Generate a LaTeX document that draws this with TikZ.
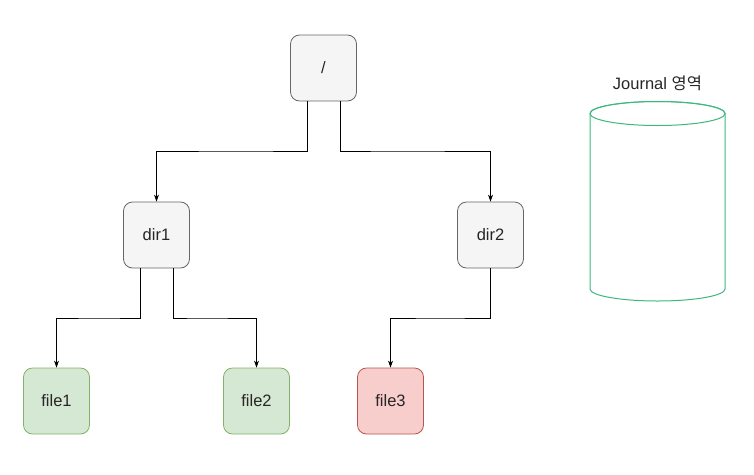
\documentclass[tikz,border=0pt]{standalone}
\usepackage{fontspec}
\setmainfont{Liberation Sans}
\newfontfamily\krfont{Noto Sans CJK KR}
\usetikzlibrary{arrows.meta}
\definecolor{gfill}{HTML}{F5F5F5}
\definecolor{gline}{HTML}{666666}
\definecolor{okfill}{HTML}{D5E8D4}
\definecolor{okline}{HTML}{82B366}
\definecolor{badfill}{HTML}{F8CECC}
\definecolor{badline}{HTML}{B85450}
\definecolor{cyl}{HTML}{3DB87E}
\begin{document}
\begin{tikzpicture}[x=1pt,y=-1pt,
  box/.style={draw=gline,line width=0.8pt,fill=gfill,rounded corners=9pt,minimum width=66pt,minimum height=66pt,inner sep=0pt,font=\fontsize{16.5}{19}\selectfont,text=black!85},
  okbox/.style={box,draw=okline,fill=okfill},
  badbox/.style={box,draw=badline,fill=badfill},
  conn/.style={draw=black,line width=0.8pt,-{Stealth[length=7pt,width=5pt]}}]
\useasboundingbox (0,0) rectangle (754,474);
\node[box] (root) at (323.5,68) {/};
\node[box] (dir1) at (156.5,235) {dir1};
\node[box] (dir2) at (490.5,235) {dir2};
\node[okbox] (file1) at (56.5,401) {file1};
\node[okbox] (file2) at (256.5,401) {file2};
\node[badbox] (file3) at (390.5,401) {file3};
% connectors
\draw[conn] ([xshift=-16.5pt]root.south) |- (240,151) -| (dir1.north);
\draw[conn] ([xshift=16.5pt]root.south) |- (400,151) -| (dir2.north);
\draw[conn] ([xshift=-16.5pt]dir1.south) |- (100,318) -| (file1.north);
\draw[conn] ([xshift=16.5pt]dir1.south) |- (200,318) -| (file2.north);
\draw[conn] (dir2.south) |- (440,318) -| (file3.north);
% cylinder
\coordinate (ctop) at (657.5,113.5);
\coordinate (cbot) at (657.5,289);
\draw[cyl,line width=1pt,fill=white]
  (590,113.5) -- (590,289) arc[start angle=180,end angle=360,x radius=67.5pt,y radius=12pt]
  -- (725,113.5) arc[start angle=0,end angle=180,x radius=67.5pt,y radius=12pt];
\draw[cyl,line width=1pt] (ctop) ellipse[x radius=67.5pt,y radius=12pt];
\node[font=\fontsize{16.5}{19}\selectfont,text=black!85] (jlabel) at (657.5,83) {Journal {\krfont 영역}};
\end{tikzpicture}
\end{document}
